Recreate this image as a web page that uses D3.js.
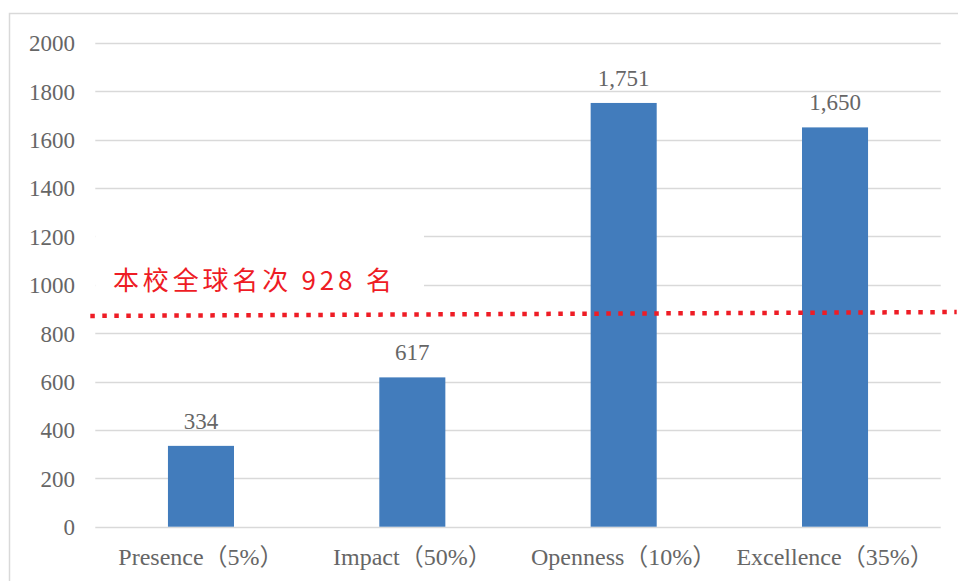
<!DOCTYPE html>
<html>
<head>
<meta charset="utf-8">
<script src="https://cdn.jsdelivr.net/npm/d3@7"></script>
<style>
  html, body { margin: 0; padding: 0; background: #fff; }
  svg { display: block; }
</style>
</head>
<body>
<svg id="chart" width="958" height="581"></svg>
<script>
const categories = ["Presence（5%）", "Impact（50%）", "Openness（10%）", "Excellence（35%）"];
const values = [334, 617, 1751, 1650];
const yTicks = [0, 200, 400, 600, 800, 1000, 1200, 1400, 1600, 1800, 2000];
const refLineValues = [871, 887];   // hand-drawn red dotted line (left, right)
const refLabel = "本校全球名次 928 名";

const svg = d3.select("#chart");
const W = 958, H = 581;
const plot = { left: 95.3, right: 940.7, top: 42.7, bottom: 526.7 };

const textColor = "#666666";
const gridColor = "#d9d9d9";
const barColor = "#427cbc";
const red = "#ee1c25";
const serif = "'Liberation Serif', 'Times New Roman', 'Noto Sans CJK SC', serif";

// outer chart border
svg.append("rect")
  .attr("x", 9.5).attr("y", 13.5)
  .attr("width", W + 20).attr("height", H + 20)
  .attr("fill", "#fff")
  .attr("stroke", gridColor).attr("stroke-width", 1.5);

const y = d3.scaleLinear().domain([0, 2000]).range([plot.bottom, plot.top]);
const x = d3.scaleBand().domain(categories).range([plot.left, plot.right])
  .paddingInner(0.6875).paddingOuter(0.34375);

// gridlines
svg.append("g").selectAll("line").data(yTicks).join("line")
  .attr("x1", plot.left).attr("x2", plot.right)
  .attr("y1", d => Math.round(y(d)) + 0.5).attr("y2", d => Math.round(y(d)) + 0.5)
  .attr("stroke", gridColor).attr("stroke-width", 1.5);

// y axis labels
const yAxis = d3.axisLeft(y).tickValues(yTicks).tickSize(0).tickPadding(0).tickFormat(d3.format("d"));
const gy = svg.append("g").attr("transform", `translate(75,0)`).call(yAxis);
gy.attr("font-family", serif);
gy.select(".domain").remove();
gy.selectAll("text")
  .attr("font-family", serif).attr("font-size", 23).attr("fill", textColor)
  .attr("dy", "0.35em");

// x axis labels
const xAxis = d3.axisBottom(x).tickSize(0).tickPadding(0);
const gx = svg.append("g").attr("transform", `translate(0,${plot.bottom})`).call(xAxis);
gx.attr("font-family", serif);
gx.select(".domain").remove();
gx.selectAll("text")
  .attr("font-family", serif).attr("font-size", 24).attr("fill", textColor)
  .attr("dy", 0).attr("y", 38);

// bars
svg.append("g").selectAll("rect").data(values).join("rect")
  .attr("x", (d, i) => x(categories[i]))
  .attr("width", x.bandwidth())
  .attr("y", d => y(d))
  .attr("height", d => y(0) - y(d))
  .attr("fill", barColor);

// data labels
svg.append("g").selectAll("text").data(values).join("text")
  .attr("x", (d, i) => x(categories[i]) + x.bandwidth() / 2)
  .attr("y", d => y(d) - 17)
  .attr("text-anchor", "middle")
  .attr("font-family", serif).attr("font-size", 23).attr("fill", textColor)
  .text(d => d3.format(",")(d));

// annotation label with white background
const labelX = 113, labelBaseline = y(refLineValues[0]) - 26;
svg.append("rect")
  .attr("x", plot.left).attr("y", labelBaseline - 66)
  .attr("width", 424 - plot.left).attr("height", 78)
  .attr("fill", "#fff");
svg.append("text")
  .attr("x", labelX).attr("y", labelBaseline)
  .attr("font-family", "'Noto Sans CJK SC', sans-serif")
  .attr("font-size", 26).attr("fill", red)
  .attr("textLength", 279).attr("lengthAdjust", "spacing")
  .text(refLabel);

// red dotted reference line
svg.append("line")
  .attr("x1", plot.left - 5).attr("x2", plot.right + 16)
  .attr("y1", y(refLineValues[0])).attr("y2", y(refLineValues[1]))
  .attr("stroke", red).attr("stroke-width", 4.5)
  .attr("stroke-dasharray", "4.5,7.5");
</script>
</body>
</html>
